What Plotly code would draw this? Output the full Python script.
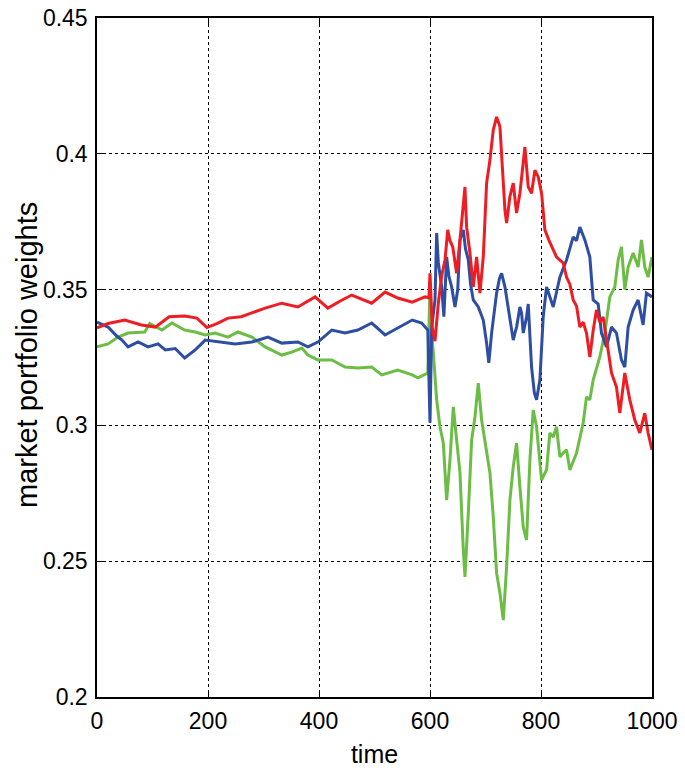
import plotly.graph_objects as go

# ---------------- data ----------------
red_t = [0, 20, 50, 80, 105, 130, 158, 180, 198, 216, 236, 260, 279, 303, 333, 362, 393, 416, 440, 459, 495, 519, 542, 568, 591, 598,
         600, 604, 609, 615, 621, 627, 632, 636, 641, 648, 654, 660, 663, 666, 672, 678, 684, 690, 696, 702, 708, 714, 720, 726, 730,
         735, 738, 744, 750, 756, 762, 767, 771, 777, 783, 789, 795, 801, 807, 814, 822, 828, 840, 846, 852, 858, 864, 870, 876, 882,
         888, 894, 900, 906, 912, 918, 927, 936, 942, 951, 960, 969, 978, 987, 993, 1000]
red_v = [0.3359, 0.3375, 0.3388, 0.3370, 0.3362, 0.3400, 0.3403, 0.3395, 0.3360, 0.3375, 0.3395, 0.3400, 0.3414, 0.3432, 0.3450, 0.3436,
         0.3473, 0.3432, 0.3460, 0.3480, 0.3450, 0.3491, 0.3469, 0.3454, 0.3473, 0.3470,
         0.356, 0.336, 0.331, 0.345, 0.355, 0.3609, 0.372, 0.368, 0.3657, 0.356, 0.3683, 0.383, 0.3878, 0.373, 0.3635, 0.351, 0.362,
         0.3487, 0.362, 0.3892, 0.3977, 0.4088, 0.4136, 0.410, 0.3977, 0.3793, 0.3745, 0.3843, 0.3892, 0.3782, 0.3855, 0.395, 0.4025,
         0.3878, 0.3855, 0.394, 0.3915, 0.3855, 0.372, 0.3683, 0.365, 0.362, 0.3598, 0.3546, 0.352, 0.3462, 0.344, 0.3362, 0.338,
         0.334, 0.3252, 0.335, 0.3425, 0.338, 0.3399, 0.3314, 0.3193, 0.3141, 0.3045, 0.3193, 0.3094, 0.302, 0.2972, 0.3045, 0.2972,
         0.291]

blue_t = [0, 10, 20, 35, 45, 56, 74, 92, 110, 123, 141, 158, 177, 195, 210, 225, 249, 279, 308, 333, 362, 380, 398, 423, 447, 470,
          495, 519, 542, 568, 585, 596,
          600, 603, 609, 612, 615, 621, 625, 630, 634, 639, 645, 650, 654, 660, 664, 669, 673, 678, 687, 696, 702, 706, 711, 716, 720,
          725, 729, 735, 740, 744, 750, 753, 756, 762, 765, 768, 774, 777, 783, 788, 792, 798, 804, 810, 816, 822, 834, 846, 858, 864,
          870, 879, 888, 894, 903, 909, 918, 927, 936, 945, 951, 957, 966, 975, 984, 990, 1000]
blue_v = [0.3380, 0.3370, 0.3362, 0.3330, 0.3314, 0.3289, 0.3307, 0.3289, 0.3300, 0.3278, 0.3283, 0.3248, 0.3278, 0.3314, 0.3310,
          0.3307, 0.3300, 0.3307, 0.3325, 0.3303, 0.3307, 0.3289, 0.3307, 0.3351, 0.3340, 0.3351, 0.3377, 0.3333, 0.3359, 0.3388,
          0.3377, 0.3351,
          0.301, 0.336, 0.3462, 0.3708, 0.360, 0.351, 0.340, 0.362, 0.355, 0.351, 0.3436, 0.350, 0.3683, 0.372, 0.365, 0.3609, 0.352,
          0.3462, 0.3436, 0.3388, 0.3303, 0.323, 0.334, 0.342, 0.3487, 0.354, 0.356, 0.351, 0.345, 0.3399, 0.3314, 0.334, 0.3362,
          0.3436, 0.3414, 0.334, 0.3399, 0.3447, 0.3215, 0.312, 0.3094, 0.3167, 0.340, 0.351, 0.347, 0.3436, 0.3546, 0.3609, 0.3694,
          0.368, 0.373, 0.3683, 0.362, 0.3462, 0.3447, 0.334, 0.3289, 0.3362, 0.334, 0.3241, 0.3215, 0.3362, 0.3425, 0.3462, 0.337,
          0.3487, 0.3473]

green_t = [0, 20, 38, 56, 86, 95, 117, 135, 158, 177, 195, 213, 236, 254, 279, 303, 333, 351, 369, 380, 398, 423, 447, 470, 495, 513,
           542, 568, 578, 596,
           600, 603, 606, 612, 618, 624, 630, 636, 642, 648, 654, 660, 663, 669, 675, 681, 687, 693, 699, 708, 714, 720, 726, 732, 738,
           744, 750, 756, 762, 768, 774, 780, 786, 792, 801, 810, 816, 822, 828, 834, 840, 846, 852, 864, 876, 882, 888, 894, 906, 915,
           924, 933, 939, 945, 951, 957, 966, 975, 981, 987, 993, 1000]
green_v = [0.3289, 0.3300, 0.3325, 0.3340, 0.3344, 0.3375, 0.3351, 0.3377, 0.3351, 0.3344, 0.3333, 0.3340, 0.3325, 0.3344, 0.3325,
           0.3289, 0.3259, 0.3270, 0.3285, 0.3259, 0.3241, 0.3241, 0.3215, 0.3211, 0.3215, 0.3186, 0.3204, 0.3186, 0.3175, 0.3193,
           0.352, 0.334, 0.3267, 0.3094, 0.2995, 0.2935, 0.2725, 0.2873, 0.3068, 0.2946, 0.2825, 0.2541, 0.2442, 0.2677, 0.2946,
           0.3031, 0.3156, 0.302, 0.2946, 0.2825, 0.2663, 0.2456, 0.2383, 0.2283, 0.2479, 0.2725, 0.2847, 0.2935, 0.2774, 0.2626,
           0.2578, 0.2873, 0.3057, 0.2995, 0.2799, 0.2836, 0.2972, 0.2957, 0.2995, 0.2884, 0.2898, 0.2910, 0.2836, 0.2898, 0.3009,
           0.3105, 0.3094, 0.3167, 0.3252, 0.3340, 0.3473, 0.3510, 0.3609, 0.3657, 0.3500, 0.3583, 0.3635, 0.3583, 0.3683, 0.3583,
           0.3546, 0.362]

x_ticks = [0, 200, 400, 600, 800, 1000]
y_ticks = [0.2, 0.25, 0.3, 0.35, 0.4, 0.45]
y_tick_labels = ["0.2", "0.25", "0.3", "0.35", "0.4", "0.45"]

# ---------------- figure ----------------
fig = go.Figure()
for t, v, c in [(green_t, green_v, "#6CBD45"), (blue_t, blue_v, "#2D4EA2"), (red_t, red_v, "#EE1D23")]:
    fig.add_trace(go.Scatter(x=t, y=v, mode="lines", line=dict(color=c, width=3), showlegend=False))

tick_font = dict(family="Liberation Sans, Arial", size=23, color="black")
axis_common = dict(
    showline=True, linecolor="black", linewidth=1.5, mirror="ticks",
    ticks="inside", ticklen=6, tickcolor="black", tickwidth=1,
    showgrid=True, gridcolor="black", gridwidth=1, griddash="3px,3px",
    zeroline=False, tickfont=tick_font, automargin=False,
)

fig.update_layout(
    width=685, height=777,
    margin=dict(l=97, r=33, t=18, b=80),
    plot_bgcolor="white", paper_bgcolor="white",
    xaxis=dict(range=[0, 1000], tickvals=x_ticks, ticklabelstandoff=3,
               title=dict(text="time", font=dict(family="Liberation Sans, Arial", size=25, color="black"), standoff=12),
               **axis_common),
    yaxis=dict(range=[0.2, 0.45], tickvals=y_ticks, ticktext=y_tick_labels, ticklabelstandoff=3,
               **axis_common),
    annotations=[dict(
        text="market portfolio weights", textangle=-90,
        xref="paper", yref="paper", x=(27 - 97) / 555, y=(777 - 355 - 80) / 679,
        xanchor="center", yanchor="middle", showarrow=False,
        font=dict(family="Liberation Sans, Arial", size=29, color="black"),
    )],
)

fig.write_html("out.html")
